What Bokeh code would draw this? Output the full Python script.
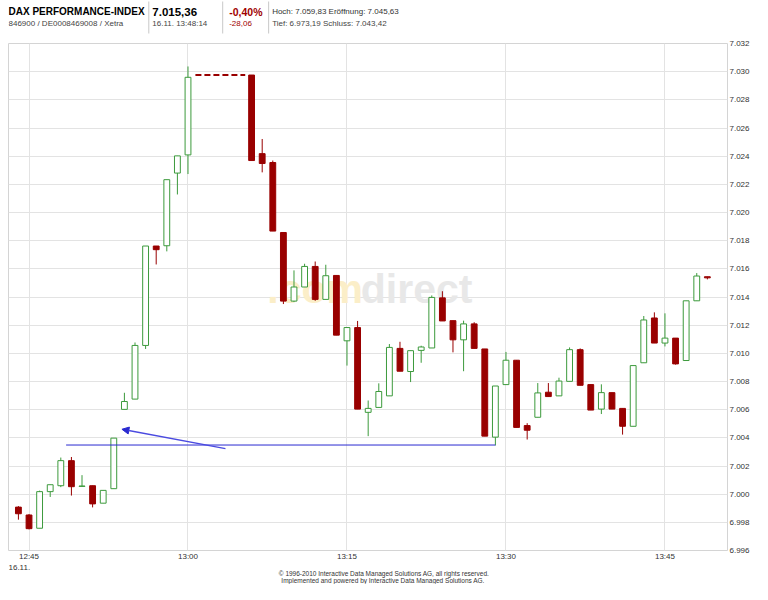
from bokeh.plotting import figure
from bokeh.layouts import column
from bokeh.models import FixedTicker, Label, Arrow, NormalHead, ColumnDataSource
from bokeh.core.properties import value
from bokeh.embed import file_html
from bokeh.resources import INLINE

# ---------------- data (1-minute candles, DAX 16.11.) ----------------
times = ["12:44", "12:45", "12:46", "12:47", "12:48", "12:49", "12:50", "12:51", "12:52", "12:53",
         "12:54", "12:55", "12:56", "12:57", "12:58", "12:59", "13:00",
         "13:06", "13:07", "13:08", "13:09", "13:10", "13:11", "13:12", "13:13", "13:14",
         "13:15", "13:16", "13:17", "13:18", "13:19", "13:20", "13:21", "13:22", "13:23", "13:24",
         "13:25", "13:26", "13:27", "13:28", "13:29", "13:30", "13:31", "13:32", "13:33", "13:34",
         "13:35", "13:36", "13:37", "13:38", "13:39", "13:40", "13:41", "13:42", "13:43", "13:44",
         "13:45", "13:46", "13:47", "13:48", "13:49"]
opens = [6999.08, 6998.52, 6997.58, 7000.18, 7000.60, 7002.38, 7000.55, 7000.60, 6999.36, 7000.39,
         7006.02, 7006.75, 7010.56, 7017.62, 7017.64, 7022.80, 7024.09,
         7029.76, 7024.18, 7023.55, 7018.58, 7013.71, 7014.71, 7016.17, 7013.83, 7015.53,
         7010.89, 7011.83, 7005.81, 7006.16, 7006.98, 7010.35, 7008.71, 7010.21, 7010.38, 7013.94,
         7012.32, 7010.96, 7012.09, 7010.31, 7004.05, 7007.78, 7009.51, 7004.87, 7005.46, 7007.24,
         7006.98, 7008.01, 7010.26, 7007.78, 7006.04, 7007.21, 7006.09, 7004.82, 7009.33, 7012.51,
         7010.73, 7011.08, 7009.49, 7013.73, 7015.44]
highs = [6999.15, 6998.59, 7000.25, 7000.67, 7002.60, 7002.64, 7001.35, 7000.60, 7000.27, 7003.98,
         7007.20, 7010.77, 7017.62, 7017.62, 7022.33, 7024.02, 7030.37,
         7029.76, 7025.22, 7023.69, 7018.58, 7015.89, 7016.36, 7016.52, 7016.29, 7015.53,
         7011.83, 7012.30, 7006.65, 7007.87, 7010.66, 7010.82, 7010.19, 7010.54, 7014.11, 7014.41,
         7012.32, 7012.32, 7012.21, 7010.31, 7007.68, 7010.10, 7009.51, 7005.04, 7007.89, 7007.89,
         7008.27, 7010.42, 7010.35, 7007.78, 7007.80, 7007.21, 7006.09, 7009.13, 7012.65, 7012.91,
         7012.84, 7011.08, 7013.73, 7015.70, 7015.44]
lows = [6998.19, 6997.50, 6997.58, 6999.80, 7000.50, 6999.90, 7000.55, 6999.06, 6999.36, 7000.39,
        7006.02, 7006.75, 7010.31, 7016.31, 7017.24, 7021.28, 7022.73,
        7023.69, 7022.85, 7018.68, 7013.50, 7013.64, 7014.71, 7013.73, 7013.83, 7011.29,
        7009.13, 7006.04, 7004.12, 7006.16, 7006.98, 7008.73, 7007.96, 7009.33, 7010.38, 7012.30,
        7010.07, 7008.73, 7010.35, 7004.12, 7003.46, 7007.78, 7004.74, 7003.88, 7005.46, 7006.93,
        7006.98, 7008.01, 7007.73, 7005.97, 7005.69, 7006.04, 7004.23, 7004.82, 7009.33, 7010.73,
        7010.49, 7009.20, 7009.49, 7013.73, 7015.25]
closes = [6998.61, 6997.55, 7000.18, 7000.67, 7002.38, 7000.53, 7000.58, 6999.31, 7000.27, 7003.98,
          7006.58, 7010.56, 7017.62, 7017.36, 7022.33, 7024.02, 7029.60,
          7023.69, 7023.48, 7018.68, 7013.71, 7014.71, 7016.17, 7013.83, 7015.51, 7011.29,
          7011.83, 7006.04, 7006.09, 7007.29, 7010.42, 7008.73, 7010.19, 7010.45, 7013.97, 7012.30,
          7010.96, 7012.09, 7010.35, 7004.12, 7007.68, 7009.51, 7004.74, 7004.54, 7007.19, 7006.93,
          7008.03, 7010.26, 7007.73, 7005.97, 7007.21, 7006.04, 7004.82, 7009.13, 7012.37, 7010.73,
          7011.08, 7009.25, 7013.73, 7015.49, 7015.36]

x_tick_labels = ["12:45", "13:00", "13:15", "13:30", "13:45"]
y_ticks = list(range(6996, 7033, 2))

# user-drawn annotations (time, level)
support_times = ["12:48:30", "13:29"]
support_level = 7003.49
arrow_from = ("13:03:32", 7003.24)
arrow_to = ("12:53:46", 7004.61)

header_row1 = ["DAX PERFORMANCE-INDEX", "7.015,36", "-0,40%", "Hoch: 7.059,83  Eröffnung: 7.045,63"]
header_row2 = ["846900 / DE0008469008 / Xetra", "16.11. 13:48:14", "-28,06", "Tief: 6.973,19  Schluss: 7.043,42"]
date_label = "16.11."
footer_lines = ["© 1996-2010 Interactive Data Managed Solutions AG, all rights reserved.",
                "Implemented and powered by  Interactive Data Managed Solutions AG."]

# ---------------- helpers ----------------
def minutes(t):
    parts = [int(v) for v in t.split(":")]
    while len(parts) < 3:
        parts.append(0)
    return parts[0] * 60 + parts[1] + parts[2] / 60.0 - (12 * 60 + 45)

FONT = "Liberation Sans"
W = 752
BL, BR = 8, 24          # left / right borders shared by all stacked figures
GREEN = "#3c9a3c"
RED = "#990000"
DARKRED = "#a00000"
TXT = "#333333"


def blank_fig(h):
    f = figure(width=W, height=h, x_range=(BL, W - BR), y_range=(h, 0), output_backend="svg",
               toolbar_location=None, x_axis_location=None, y_axis_location=None,
               min_border_left=BL, min_border_right=BR, min_border_top=0, min_border_bottom=0)
    f.grid.visible = False
    f.outline_line_color = None
    f.background_fill_color = "white"
    f.border_fill_color = "white"
    return f


def txt(f, xs, ys, texts, size, color=TXT, bold=False, align="left"):
    f.text(x=xs, y=ys, text=texts, text_font=value(FONT), text_font_size=value(size),
           text_font_style="bold" if bold else "normal", text_color=color,
           text_align=align, text_baseline="middle")


# ---------------- header ----------------
HH = 36
hdr = blank_fig(HH)
col_x = [8, 152, 229, 272]
r1, r2 = 11, 23
txt(hdr, [col_x[0]], [r1], [header_row1[0]], "10px", color="#000000", bold=True)
txt(hdr, [col_x[1]], [r1], [header_row1[1]], "11.5px", color="#000000", bold=True)
txt(hdr, [col_x[2]], [r1], [header_row1[2]], "10.5px", color=DARKRED, bold=True)
txt(hdr, [col_x[3]], [r1], [header_row1[3]], "8px")
txt(hdr, [col_x[0], col_x[1], col_x[3]], [r2, r2, r2],
    [header_row2[0], header_row2[1], header_row2[3]], "8px", color="#444444")
txt(hdr, [col_x[2]], [r2], [header_row2[2]], "8px", color=DARKRED)
sep_x = [148.5, 222.5, 268.5]
hdr.segment(x0=sep_x, x1=sep_x, y0=[1] * 3, y1=[33] * 3, line_color="#c8c8c8", line_width=1)

# ---------------- main chart ----------------
x = [minutes(t) for t in times]
up = [c >= o for o, c in zip(opens, closes)]
src = ColumnDataSource(dict(
    x=x, high=highs, low=lows,
    top=[max(o, c) for o, c in zip(opens, closes)],
    bottom=[min(o, c) for o, c in zip(opens, closes)],
    color=[GREEN if u else RED for u in up],
    fill=["#ffffff" if u else RED for u in up]))

MH = 527
p = figure(width=W, height=MH, output_backend="svg", toolbar_location=None,
           x_range=(-1.935, 65.9), y_range=(6996, 7032), y_axis_location="right",
           min_border_left=BL, min_border_right=BR, min_border_top=7, min_border_bottom=10)
p.background_fill_color = "white"
p.border_fill_color = "white"
p.outline_line_color = "#d4d4d4"

xt = [minutes(t) for t in x_tick_labels]
p.xaxis.ticker = FixedTicker(ticks=xt)
p.xaxis.major_label_overrides = {m: lab for m, lab in zip(xt, x_tick_labels)}
p.yaxis.ticker = FixedTicker(ticks=y_ticks)
p.yaxis.major_label_overrides = {v: f"{v / 1000:.3f}" for v in y_ticks}
for ax in (p.xaxis, p.yaxis):
    ax.axis_line_color = None
    ax.major_tick_line_color = None
    ax.minor_tick_line_color = None
    ax.major_tick_out = 0
    ax.major_tick_in = 0
    ax.major_label_text_font = FONT
    ax.major_label_text_font_size = "8px"
    ax.major_label_text_color = TXT
p.xaxis.major_label_standoff = 1
p.yaxis.major_label_standoff = 2
p.xgrid.ticker = FixedTicker(ticks=xt)
p.ygrid.ticker = FixedTicker(ticks=y_ticks)
p.grid.grid_line_color = "#e3e3e3"
p.grid.grid_line_width = 1

# watermark
wm_y = 7012.9
p.add_layout(Label(x=minutes("13:07:29"), y=wm_y, text=".com", text_font=FONT, text_font_size="41px",
                   text_font_style="bold", text_color="#fbeec8", level="underlay"))
p.add_layout(Label(x=minutes("13:16:18"), y=wm_y, text="direct", text_font=FONT, text_font_size="41px",
                   text_font_style="bold", text_color="#e8e8e8", level="underlay"))

# gap line between 13:00 close and 13:06 open
gi = times.index("13:06")
p.line([x[gi - 1] + 0.7, x[gi] - 0.6], [opens[gi], opens[gi]], line_color=RED, line_width=2,
       line_dash="6 3")

# candles
p.segment(x0="x", x1="x", y0="low", y1="high", source=src, line_color="color", line_width=1)
p.vbar(x="x", width=0.55, top="top", bottom="bottom", source=src, fill_color="fill",
       line_color="color", line_width=1)

# blue support line + arrow
BLUE = "#2a2ad0"
p.line([minutes(t) for t in support_times], [support_level, support_level], line_color=BLUE,
       line_width=1)
p.add_layout(Arrow(x_start=minutes(arrow_from[0]), y_start=arrow_from[1],
                   x_end=minutes(arrow_to[0]), y_end=arrow_to[1], line_color="#4a4ae0", line_width=1.3,
                   end=NormalHead(size=7, fill_color=BLUE, line_color=BLUE)))

# ---------------- footer ----------------
FH = 584 - HH - MH
ftr = blank_fig(FH)
txt(ftr, [8], [4], [date_label], "8px")
txt(ftr, [384, 384], [10, 17], footer_lines, "6.5px", align="center")

layout = column(hdr, p, ftr, spacing=0)
open("out.html", "w").write(file_html(layout, INLINE))
